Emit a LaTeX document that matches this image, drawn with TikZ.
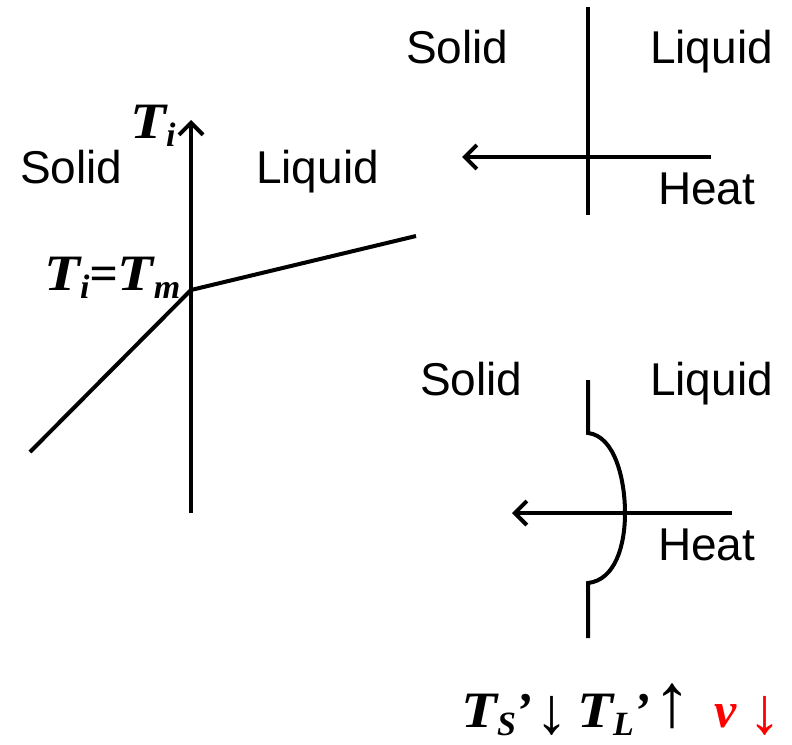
\documentclass[tikz,border=0pt]{standalone}
\usepackage{fontspec}
\setmainfont{Liberation Sans}
\newfontfamily\tnr{Liberation Serif}
\newfontfamily\tnrw[FakeStretch=1.15]{Liberation Serif}
\usetikzlibrary{arrows.meta}
\newcommand\mysub[1]{\raisebox{-8pt}{\fontsize{34}{34}\selectfont #1}}
\newcommand\bigT{{\tnrw\fontsize{51}{56}\selectfont T}}
\tikzset{
  lab/.style={font=\fontsize{46}{50}\selectfont, inner sep=0pt, anchor=base west},
  mlab/.style={font=\tnr\bfseries\itshape\fontsize{50}{56}\selectfont, inner sep=0pt, anchor=base west},
  arr/.style={font=\tnr\fontsize{66}{66}\selectfont, inner sep=0pt, anchor=center},
  thick line/.style={line width=4pt},
  tip/.style={-{Straight Barb[length=12pt,width=24pt]}}
}
\begin{document}
\begin{tikzpicture}[x=1pt,y=-1pt]
\useasboundingbox (0,0) rectangle (792,744);
% ---- top right ----
\coordinate (v1t) at (588,7);
\coordinate (v1b) at (588,215);
\coordinate (h1r) at (711,157);
\coordinate (h1l) at (462,157);
\draw[thick line] (v1t) -- (v1b);
\draw[thick line,tip] (h1r) -- (h1l);
\node[lab] (s1) at (406,63) {Solid};
\node[lab] (l1) at (650,63) {Liquid};
\node[lab] (he1) at (658,204) {Heat};
% ---- left plot ----
\coordinate (ab) at (191,513);
\coordinate (at) at (191,120);
\coordinate (p0) at (191,290);
\coordinate (pr) at (416,236);
\coordinate (pl) at (30,452);
\draw[thick line,tip] (ab) -- (at);
\draw[thick line] (pl) -- (p0) -- (pr);
\node[mlab] (ti) at (130,138) {\bigT\mysub{i}};
\node[lab] (s2) at (20,183) {Solid};
\node[lab] (l2) at (256,183) {Liquid};
\node[mlab] (tm) at (44,290) {\bigT\mysub{i}=\bigT\mysub{m}};
% ---- bottom text ----
\node[mlab] (ts) at (461,727) {\bigT\mysub{S}’};
\node[arr] (d1) at (552,716) {↓};
\node[mlab] (tl) at (577,727) {\bigT\mysub{L}’};
\node[arr,font=\tnr\fontsize{76}{76}\selectfont] (u1) at (672,706) {↑};
\node[mlab,text=red] (vv) at (714,727) {v};
\node[arr,text=red] (d2) at (765,716) {↓};
% ---- bottom right ----
\coordinate (c1) at (588,380);
\coordinate (c2) at (588,433);
\coordinate (c3) at (625,513);
\coordinate (c4) at (588,583);
\coordinate (c5) at (588,638);
\draw[thick line] (c1) -- (c2) .. controls (615,436) and (625,480) .. (c3)
  .. controls (625,546) and (615,580) .. (c4) -- (c5);
\coordinate (h2r) at (732,513);
\coordinate (h2l) at (512,513);
\draw[thick line,tip] (h2r) -- (h2l);
\node[lab] (s3) at (420,395) {Solid};
\node[lab] (l3) at (650,395) {Liquid};
\node[lab] (he2) at (658,560) {Heat};
\end{tikzpicture}
\end{document}
